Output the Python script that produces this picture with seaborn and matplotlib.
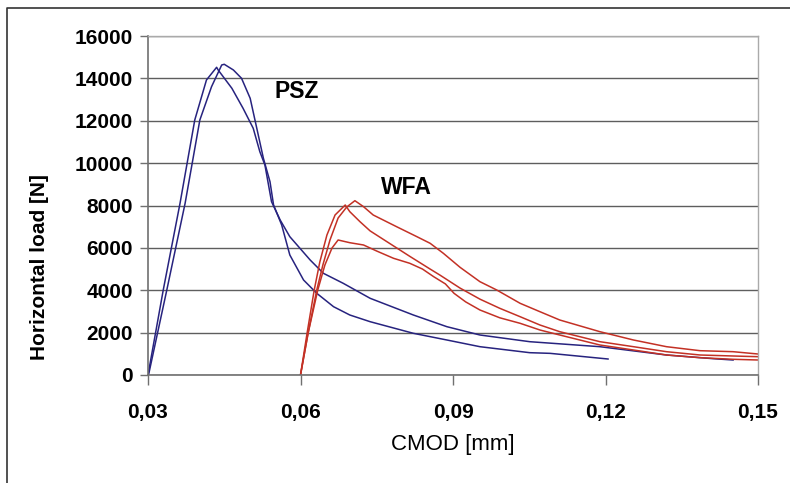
import numpy as np
import pandas as pd
import matplotlib
matplotlib.use('Agg')
import matplotlib.pyplot as plt
from matplotlib.ticker import FuncFormatter
from matplotlib.lines import Line2D
import seaborn as sns

# PSZ specimens (blue)
psz1_x = [0.0300, 0.0330, 0.0363, 0.0392, 0.0415, 0.0435, 0.0438, 0.0465, 0.0487, 0.0507,
          0.0520, 0.0530, 0.0543, 0.0560, 0.0579, 0.0619, 0.0645, 0.0684, 0.0737, 0.0822,
          0.0888, 0.0953, 0.1051, 0.1189, 0.1320, 0.1412, 0.1451]
psz1_y = [0, 4012, 8104, 12036, 13924, 14523, 14396, 13532, 12588, 11644,
          10540, 9912, 8180, 7316, 6528, 5428, 4800, 4328, 3620, 2832,
          2280, 1888, 1572, 1336, 944, 770, 708]

psz2_x = [0.0301, 0.0337, 0.0373, 0.0402, 0.0425, 0.0445, 0.0450, 0.0468, 0.0484, 0.0501,
          0.0514, 0.0527, 0.0540, 0.0547, 0.0563, 0.0579, 0.0606, 0.0632, 0.0665, 0.0697,
          0.0737, 0.0822, 0.0888, 0.0953, 0.1051, 0.1091, 0.1205]
psz2_y = [0, 4012, 8104, 12036, 13608, 14632, 14665, 14396, 14004, 13060,
          11644, 10228, 9124, 8024, 7080, 5664, 4484, 3856, 3224, 2832,
          2516, 1968, 1652, 1336, 1053, 1022, 755]

# WFA specimens (red)
wfa1_x = [0.0600, 0.0615, 0.0632, 0.0644, 0.0658, 0.0674, 0.0691, 0.0707, 0.0724, 0.0743,
          0.0789, 0.0829, 0.0855, 0.0881, 0.0914, 0.0953, 0.0986, 0.1032, 0.1071, 0.1110,
          0.1189, 0.1255, 0.1320, 0.1386, 0.1451, 0.1500]
wfa1_y = [0, 1982, 4012, 5192, 6372, 7410, 7930, 8227, 7944, 7552,
          7000, 6528, 6216, 5744, 5080, 4404, 4012, 3384, 2988, 2596,
          2044, 1652, 1336, 1147, 1100, 991]

wfa2_x = [0.0600, 0.0613, 0.0627, 0.0638, 0.0652, 0.0668, 0.0688, 0.0697, 0.0717, 0.0737,
          0.0776, 0.0815, 0.0855, 0.0874, 0.0914, 0.0953, 0.0992, 0.1032, 0.1071, 0.1110,
          0.1189, 0.1255, 0.1320, 0.1386, 0.1451, 0.1500]
wfa2_y = [0, 1982, 4012, 5334, 6608, 7552, 8024, 7708, 7236, 6800,
          6200, 5600, 5000, 4720, 4100, 3580, 3148, 2752, 2360, 2044,
          1572, 1336, 1100, 944, 897, 864]

wfa3_x = [0.0600, 0.0615, 0.0634, 0.0648, 0.0662, 0.0674, 0.0697, 0.0724, 0.0750, 0.0783,
          0.0815, 0.0840, 0.0862, 0.0885, 0.0902, 0.0925, 0.0953, 0.0992, 0.1032, 0.1071,
          0.1110, 0.1189, 0.1255, 0.1320, 0.1386, 0.1451, 0.1500]
wfa3_y = [0, 1982, 4012, 5192, 5994, 6372, 6244, 6136, 5850, 5508,
          5272, 5000, 4640, 4300, 3856, 3450, 3068, 2700, 2440, 2124,
          1888, 1416, 1180, 944, 817, 741, 708]

x_ticks = [0.03, 0.06, 0.09, 0.12, 0.15]
y_ticks = list(range(0, 16001, 2000))

blue = '#27237f'
red = '#c33125'

sans = ['Liberation Sans', 'DejaVu Sans']

fig = plt.figure(figsize=(7.9, 4.83), dpi=100)
ax = fig.add_axes([148 / 790, 1 - 375 / 483, 610 / 790, 339 / 483])

series = [(psz1_x, psz1_y, blue), (psz2_x, psz2_y, blue),
          (wfa1_x, wfa1_y, red), (wfa2_x, wfa2_y, red), (wfa3_x, wfa3_y, red)]
for xs, ys, col in series:
    df = pd.DataFrame({'cmod': xs, 'load': ys})
    sns.lineplot(data=df, x='cmod', y='load', sort=False, estimator=None,
                 color=col, linewidth=1.1, ax=ax)

ax.set_xlim(0.03, 0.15)
ax.set_ylim(0, 16000)
ax.set_xticks(x_ticks)
ax.set_yticks(y_ticks)
ax.xaxis.set_major_formatter(FuncFormatter(lambda v, _: f'{v:.2f}'.replace('.', ',')))
ax.yaxis.grid(True, color='#5e5e5e', linewidth=1.0)
ax.xaxis.grid(False)
ax.set_axisbelow(True)

for side in ['left', 'bottom']:
    ax.spines[side].set_color('#707070')
    ax.spines[side].set_linewidth(1.2)
for side in ['top', 'right']:
    ax.spines[side].set_color('#aaaaaa')
    ax.spines[side].set_linewidth(1.0)

ax.tick_params(axis='y', length=6, width=1, color='#707070', pad=5)
ax.tick_params(axis='x', length=7, width=1, color='#707070', pad=13)
for lab in ax.get_xticklabels() + ax.get_yticklabels():
    lab.set_family(sans)
    lab.set_fontweight('bold')
    lab.set_fontsize(15)

ax.set_xlabel('CMOD [mm]', family=sans, fontsize=16, labelpad=9)
ax.set_ylabel('Horizontal load [N]', family=sans, fontsize=15, fontweight='bold')
ax.yaxis.set_label_coords(-0.162, 0.319)

ax.text(0.0593, 13360, 'PSZ', family=sans, fontsize=16.5, fontweight='bold',
        ha='center', va='center')
ax.text(0.0808, 8870, 'WFA', family=sans, fontsize=16.5, fontweight='bold',
        ha='center', va='center')

# outer frame (only the left and top edges are visible in the crop)
fig.add_artist(Line2D([7 / 790, 7 / 790, 1.0], [0.0, 1 - 8 / 483, 1 - 8 / 483],
                      transform=fig.transFigure, color='#333333', linewidth=1.2))

fig.savefig('out.png', dpi=100)
plt.close(fig)
